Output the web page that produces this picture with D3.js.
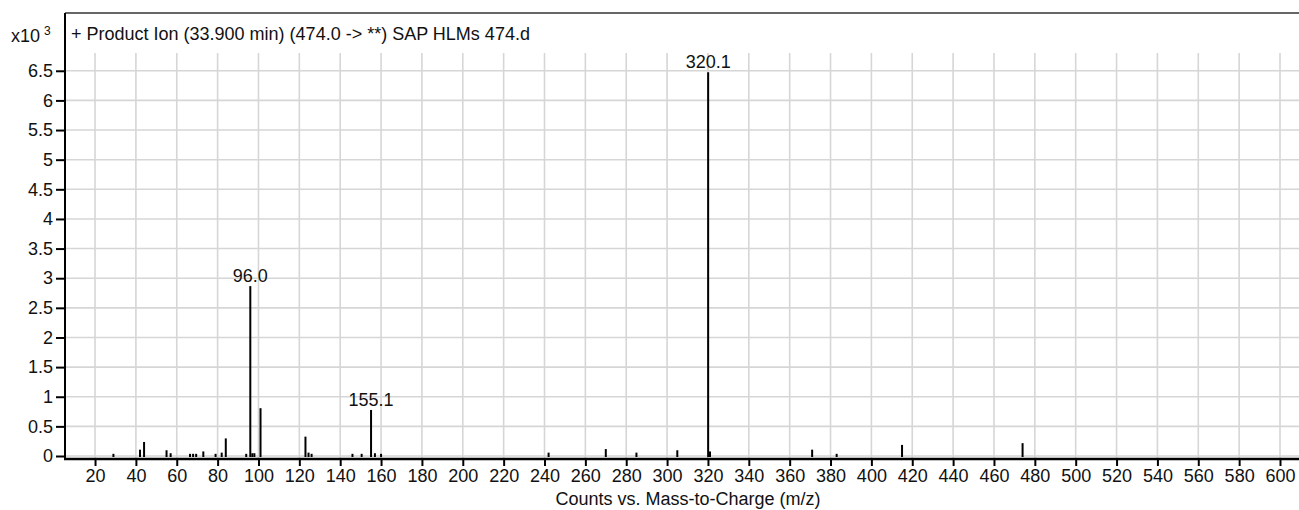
<!DOCTYPE html>
<html>
<head>
<meta charset="utf-8">
<script src="https://cdn.jsdelivr.net/npm/d3@7"></script>
<style>
  html, body { margin: 0; padding: 0; background: #fff; }
  svg { display: block; }
  text { font-family: "Liberation Sans", Arial, sans-serif; fill: #111; }
</style>
</head>
<body>
<svg id="chart" width="1299" height="510"></svg>
<script>
// ---- data (intensity in counts x10^3) ----
const mzValues = [29, 42, 44, 55, 57, 66.5, 68, 69.5, 73, 79, 82, 84, 94, 96.0, 97, 98, 101,
  123, 124.5, 126, 146, 150.5, 155.1, 157, 160, 242, 270, 285, 305, 320.1, 321, 371, 383, 415, 474];
const intensities = [0.02, 0.09, 0.22, 0.08, 0.03, 0.02, 0.02, 0.02, 0.06, 0.02, 0.04, 0.28, 0.02, 2.85, 0.03, 0.03, 0.79,
  0.31, 0.04, 0.02, 0.02, 0.02, 0.76, 0.03, 0.02, 0.04, 0.10, 0.04, 0.08, 6.46, 0.06, 0.09, 0.02, 0.17, 0.20];
const labelledPeaks = [96.0, 155.1, 320.1];
const peakLabels = ["96.0", "155.1", "320.1"];
const xTickValues = d3.range(20, 601, 20);
const yTickValues = d3.range(0, 6.51, 0.5);
const titleText = "+ Product Ion (33.900 min) (474.0 -> **) SAP HLMs 474.d";
const xAxisTitle = "Counts vs. Mass-to-Charge (m/z)";

const svg = d3.select("#chart");
const W = 1299;
const left = 65, plotTop = 53, frameTop = 13, axisY = 459;

const x = d3.scaleLinear().domain([5.3, 609.3]).range([left, W]);
const y = d3.scaleLinear().domain([0, 6.8]).range([456, plotTop]);

const FS = 18;

// grid
const grid = svg.append("g").attr("stroke", "#d6d6d6").attr("stroke-width", 1.6);
grid.selectAll("line.v").data(xTickValues).join("line")
  .attr("x1", d => x(d)).attr("x2", d => x(d))
  .attr("y1", plotTop).attr("y2", axisY);
grid.selectAll("line.h").data(yTickValues).join("line")
  .attr("x1", left).attr("x2", W)
  .attr("y1", d => y(d)).attr("y2", d => y(d));

// frame top line
svg.append("line").attr("x1", left).attr("x2", W).attr("y1", frameTop).attr("y2", frameTop)
  .attr("stroke", "#333").attr("stroke-width", 1.5);

// peaks
const peaks = mzValues.map((m, i) => ({ m, v: intensities[i] }));
svg.append("g").selectAll("line").data(peaks).join("line")
  .attr("x1", d => x(d.m)).attr("x2", d => x(d.m))
  .attr("y1", y(0)).attr("y2", d => y(d.v))
  .attr("stroke", "#000").attr("stroke-width", 2).attr("stroke-linecap", "square");

// peak labels
svg.append("g").selectAll("text").data(labelledPeaks).join("text")
  .attr("x", d => x(d))
  .attr("y", d => y(intensities[mzValues.indexOf(d)]) - 5)
  .attr("text-anchor", "middle").attr("font-size", FS)
  .text((d, i) => peakLabels[i]);

// y axis
const yAxis = d3.axisLeft(y).tickValues(yTickValues).tickSize(9).tickPadding(3)
  .tickFormat(d => d3.format("~g")(d));
const gy = svg.append("g").attr("transform", `translate(${left},0)`).call(yAxis);
gy.select(".domain").remove();
gy.selectAll(".tick line").attr("stroke", "#000").attr("stroke-width", 2);
gy.selectAll(".tick text").attr("font-size", FS).attr("font-family", null).attr("fill", "#111");
svg.append("line").attr("x1", left).attr("x2", left).attr("y1", frameTop).attr("y2", axisY + 1)
  .attr("stroke", "#000").attr("stroke-width", 2);

// x axis
const xAxis = d3.axisBottom(x).tickValues(xTickValues).tickSize(7).tickPadding(3);
const gx = svg.append("g").attr("transform", `translate(0,${axisY})`).call(xAxis);
gx.select(".domain").remove();
gx.selectAll(".tick line").attr("stroke", "#000").attr("stroke-width", 2);
gx.selectAll(".tick text").attr("font-size", FS).attr("font-family", null).attr("fill", "#111");
svg.append("line").attr("x1", left - 1).attr("x2", W).attr("y1", axisY).attr("y2", axisY)
  .attr("stroke", "#000").attr("stroke-width", 2.6);

// titles
svg.append("text").attr("x", 71).attr("y", 40).attr("font-size", FS).text(titleText);
const mult = svg.append("text").attr("x", 11).attr("y", 42).attr("font-size", FS);
mult.append("tspan").text("x10");
mult.append("tspan").attr("dx", 4).attr("dy", -7).attr("font-size", 12).text("3");
svg.append("text").attr("x", 688).attr("y", 505).attr("text-anchor", "middle")
  .attr("font-size", FS).text(xAxisTitle);
</script>
</body>
</html>
